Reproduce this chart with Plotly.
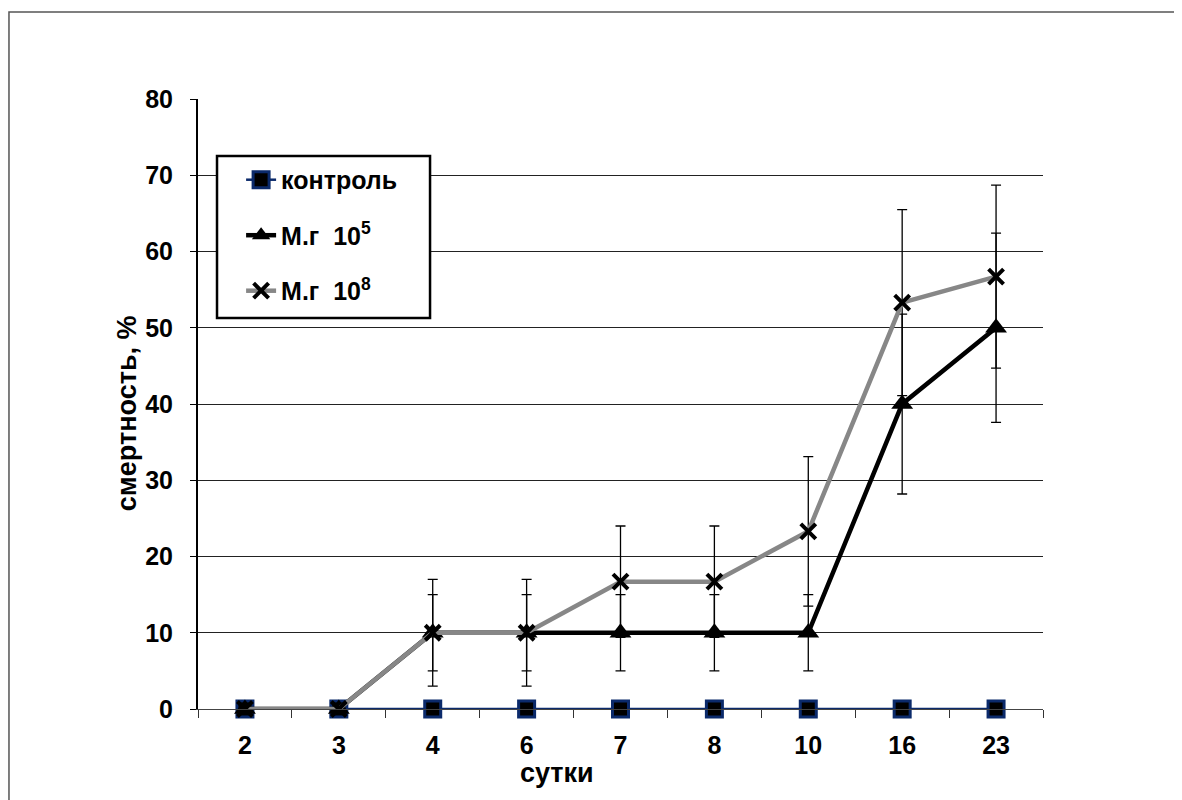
import plotly.graph_objects as go

days = ["2", "3", "4", "6", "7", "8", "10", "16", "23"]
control = [0, 0, 0, 0, 0, 0, 0, 0, 0]
mg5 = [0, 0, 10, 10, 10, 10, 10, 40, 50]
mg5_err = [0, 0, 5, 5, 5, 5, 5, 11.8, 12.4]
mg8 = [0, 0, 10, 10, 16.7, 16.7, 23.3, 53.3, 56.7]
mg8_err = [0, 0, 7, 7, 7.3, 7.3, 9.8, 12.2, 12.0]

FONT = "Liberation Sans, Arial, sans-serif"

fig = go.Figure()
fig.add_trace(go.Scatter(
    x=days, y=control, name="контроль", mode="lines+markers",
    legendgroup="a", cliponaxis=False,
    line=dict(color="#0b2a6b", width=2.5),
    marker=dict(symbol="square", size=16, color="black",
                line=dict(color="#0b2a6b", width=3)),
))
fig.add_trace(go.Scatter(
    x=days, y=mg5, name="М.г  10<sup>5</sup>", mode="lines+markers",
    legendgroup="b", cliponaxis=False,
    line=dict(color="black", width=4.5),
    marker=dict(symbol="triangle-up", size=19, color="black"),
    error_y=dict(type="data", array=mg5_err, color="black", thickness=1.3, width=5),
))
fig.add_trace(go.Scatter(
    x=days, y=mg8, name="М.г  10<sup>8</sup>", mode="lines+markers",
    legendgroup="c", cliponaxis=False,
    line=dict(color="#878787", width=4.5),
    marker=dict(symbol="x-thin", size=15, color="black",
                line=dict(color="black", width=4)),
    error_y=dict(type="data", array=mg8_err, color="black", thickness=1.3, width=5),
))

fig.update_layout(
    width=1182, height=800,
    margin=dict(l=190, r=147, t=91, b=99),
    paper_bgcolor="white", plot_bgcolor="white",
    font=dict(family=FONT, size=16, color="black"),
    showlegend=True,
    legend=dict(
        x=0.051, y=0.905, xanchor="left", yanchor="top",
        bgcolor="rgba(0,0,0,0)", borderwidth=0,
        font=dict(family=FONT, size=25, color="black", weight="bold"),
        tracegroupgap=20,
    ),
    xaxis=dict(
        type="category", showgrid=False, zeroline=False,
        showline=True, linecolor="#444444", linewidth=1,
        ticks="outside", tickson="boundaries", ticklen=8, tickcolor="#333333",
        tickfont=dict(family=FONT, size=25, color="black", weight="bold"),
        ticklabelstandoff=14,
        range=[-0.5, 8.5],
    ),
    yaxis=dict(
        range=[0, 80], dtick=10, showgrid=True, gridcolor="#222222", gridwidth=1,
        zeroline=False, showline=True, linecolor="black", linewidth=2,
        ticks="outside", ticklen=6, tickcolor="black",
        tickfont=dict(family=FONT, size=25, color="black", weight="bold"),
        ticklabelstandoff=12,
    ),
    annotations=[
        dict(text="смертность, %", x=-0.084, y=0.485, xref="paper", yref="paper",
             xanchor="center", yanchor="middle",
             textangle=-90, showarrow=False,
             font=dict(family=FONT, size=27, color="black", weight="bold")),
        dict(text="сутки", x=0.425, y=-0.105, xref="paper", yref="paper",
             xanchor="center", yanchor="middle",
             showarrow=False,
             font=dict(family=FONT, size=27, color="black", weight="bold")),
    ],
    shapes=[
        dict(type="rect", xref="paper", yref="paper",
             x0=-0.2237, x1=1.6, y0=-0.4, y1=1.1426,
             line=dict(color="#555555", width=1.5), layer="below"),
        dict(type="rect", xref="paper", yref="paper",
             x0=0.0225, x1=0.2746, y0=0.641, y1=0.9066,
             line=dict(color="black", width=2.5), fillcolor="white",
             layer="above"),
    ],
)

fig.write_html("out.html")
